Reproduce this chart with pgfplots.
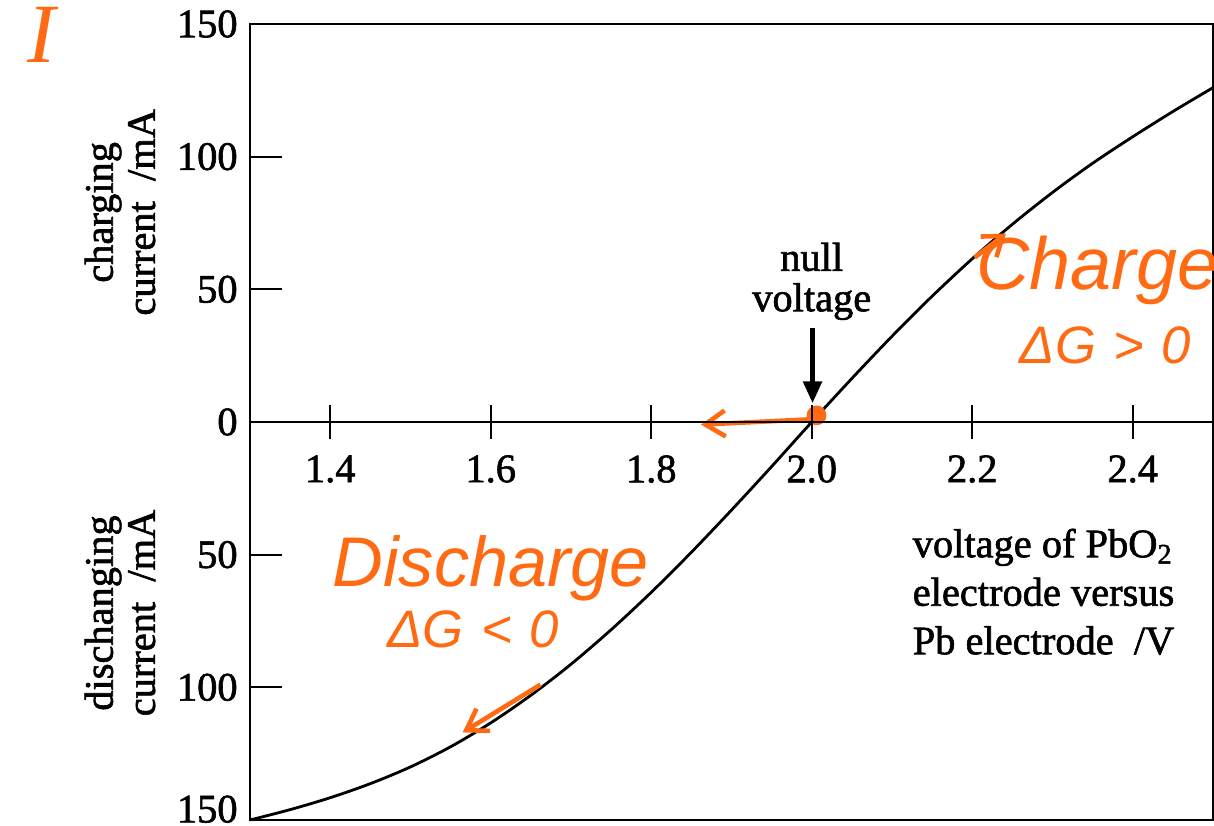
\documentclass[border=0pt]{standalone}
\usepackage{fontspec}
\setmainfont{Liberation Serif}[UprightFeatures={FakeBold=1.5}]
\newfontfamily\handfont{Liberation Sans}
\newfontfamily\handserif{Liberation Serif}
\usepackage{pgfplots}
\pgfplotsset{compat=1.18}
\usetikzlibrary{arrows.meta}
\definecolor{ink}{HTML}{FF6A13}

\pgfplotstableread{
x y
1.30 -150
1.35 -146.1
1.40 -141.6
1.45 -136.3
1.50 -130
1.55 -122.4
1.60 -113.4
1.65 -103
1.70 -91.3
1.75 -78.3
1.80 -64.2
1.85 -49.1
1.90 -33.2
1.95 -16.8
2.00 0
2.05 16.4
2.10 32.3
2.15 47.4
2.20 61.5
2.25 74.5
2.30 86.5
2.35 97.5
2.40 107.5
2.45 117
2.50 126
}\curve

\pgfplotstableread{
x y
2.006 2.5
}\nullpt

\begin{document}
\begin{tikzpicture}
\useasboundingbox (-25mm,-0.6mm) rectangle (96.4mm,82.0mm);
\begin{axis}[
  at={(0,0)}, anchor=south west,
  scale only axis, width=96.3mm, height=79.6mm,
  xmin=1.3, xmax=2.5, ymin=-150, ymax=150,
  axis line style={line width=0.6pt},
  xtick=\empty,
  ytick={-150,-100,-50,0,50,100,150},
  yticklabels={\raisebox{2.2mm}{150},100,50,0,50,100,150},
  ytick pos=left, ytick align=inside,
  major tick length=3.2mm,
  tick style={line width=0.5pt, black},
  yticklabel style={font=\fontsize{11.5}{12}\selectfont},
  clip=false,
]
\addplot[smooth, line width=0.8pt, black] table {\curve};

% axis labels
\node[rotate=90, align=center, font=\fontsize{11.5}{12}\selectfont] at (axis cs:1.138,79) {charging\\current\ \ /mA};
\node[rotate=90, align=center, font=\fontsize{11.5}{12}\selectfont] at (axis cs:1.138,-72) {dischanging\\current\ \ /mA};
\node[anchor=west, align=left, inner sep=0pt, font=\fontsize{11.5}{13.8}\selectfont] at (axis cs:2.125,-64) {voltage of PbO\textsubscript{2}\\electrode versus\\Pb electrode\ \ /V};

% null voltage
\node[align=center, font=\fontsize{11.5}{11.5}\selectfont] at (axis cs:2.0,53) {null\\voltage};
\draw[line width=1.5pt, -{Triangle[length=2.2mm,width=1.8mm]}] (axis cs:2.001,35.5) -- (axis cs:2.001,7);

% orange annotations
\addplot[only marks, mark=*, mark size=2.6pt, ink] table {\nullpt};
\draw[ink, line width=1.3pt, -{Straight Barb[length=2mm,width=2.6mm]}] (axis cs:1.998,1) -- (axis cs:1.862,-1);
\draw[ink, line width=1.3pt, -{Straight Barb[length=2mm,width=2.6mm]}] (axis cs:1.662,-99) -- (axis cs:1.565,-117);
\draw[ink, line width=1.3pt, -{Straight Barb[length=1.8mm,width=2.6mm]}] (axis cs:2.203,62) -- (axis cs:2.242,71);
\node[ink, font=\handserif\itshape\fontsize{24}{24}\selectfont] at (axis cs:1.04,146) {I};
\node[ink, font=\handfont\itshape\fontsize{21}{21}\selectfont] at (axis cs:2.356,57) {Charge};
\node[ink, font=\handfont\itshape\fontsize{15}{15}\selectfont] at (axis cs:2.366,29) {ΔG\,\,>\,\,0};
\node[ink, font=\handfont\itshape\fontsize{20}{20}\selectfont] at (axis cs:1.6,-55) {Discharge};
\node[ink, font=\handfont\itshape\fontsize{15}{15}\selectfont] at (axis cs:1.578,-78) {ΔG\,\,<\,\,0};
\end{axis}

\begin{axis}[
  at={(0,0)}, anchor=south west,
  scale only axis, width=96.3mm, height=79.6mm,
  xmin=1.3, xmax=2.5, ymin=-150, ymax=150,
  axis x line*=middle, axis y line=none,
  axis line style={line width=0.6pt},
  xtick={1.4,1.6,1.8,2.0,2.2,2.4},
  xticklabels={1.4,1.6,1.8,2.0,2.2,2.4},
  xtick align=center,
  major tick length=3.4mm,
  tick style={line width=0.5pt, black},
  xticklabel style={font=\fontsize{11.5}{12}\selectfont, yshift=-0.4mm},
]
\end{axis}
\end{tikzpicture}
\end{document}
